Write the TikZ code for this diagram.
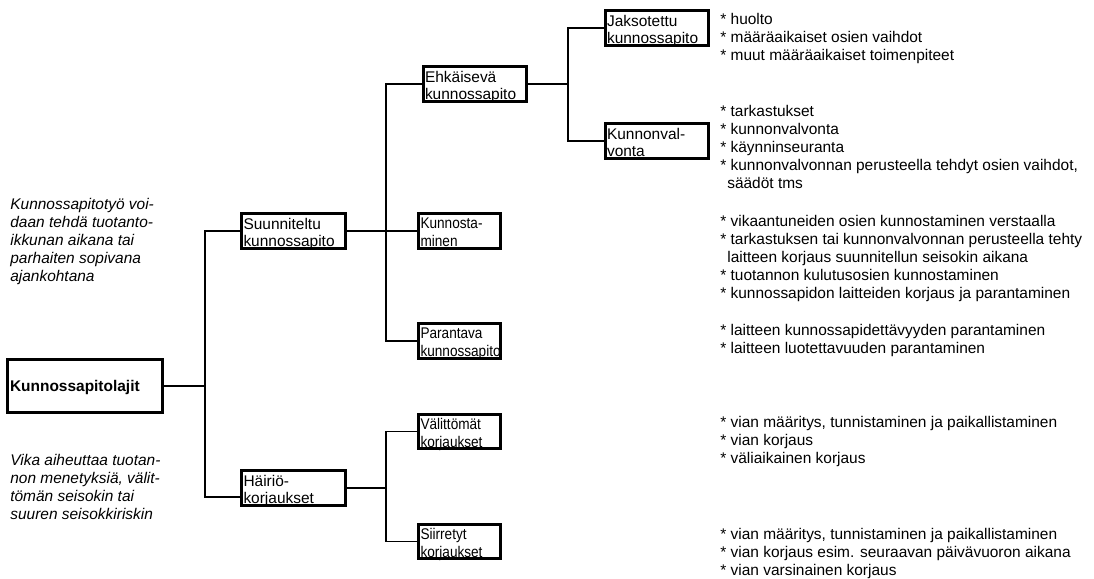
\documentclass[tikz,border=0pt]{standalone}
\usepackage{fontspec}
\setmainfont{Liberation Sans}
\newfontfamily\narrowfont[FakeStretch=0.88]{Liberation Sans}
\newcommand{\tekstikoko}{\fontsize{8.8}{10.2}\selectfont}
\tikzset{
	lajibox/.style={draw, line width=1.7pt, inner xsep=0pt, inner ysep=0pt, align=left, minimum height=0.69cm, text depth=8.6pt, font=\tekstikoko},
	leveabox/.style={lajibox, minimum width=2.07cm, text width=2.0cm},
	kapeabox/.style={lajibox, minimum width=1.63cm, text width=1.56cm, font=\narrowfont\tekstikoko},
	juuribox/.style={lajibox, minimum width=3.09cm, minimum height=1.05cm, text width=3.0cm, text depth=0pt, font=\bfseries\tekstikoko},
	lista/.style={anchor=north west, inner sep=0pt, align=left, font=\tekstikoko},
	selite/.style={lista, font=\itshape\tekstikoko},
	haara/.style={line width=0.7pt},
}
\newcommand{\sisenna}{\hspace*{0.45em}}
\begin{document}
\begin{tikzpicture}[x=0.02cm, y=-0.02cm]
		\useasboundingbox (0,0) rectangle (1094,578);
		% laatikot
		\node[juuribox] (lajit) at (85,386) {Kunnossapitolajit};
		\node[leveabox] (suunn) at (293.5,231) {Suunniteltu\\kunnossapito};
		\node[leveabox] (hairio) at (293.5,488) {Häiriö-\\korjaukset};
		\node[leveabox] (ehkais) at (475,84) {Ehkäisevä\\kunnossapito};
		\node[leveabox] (jakso) at (657,28) {Jaksotettu\\kunnossapito};
		\node[leveabox] (kvalv) at (657,141) {Kunnonval-\\vonta};
		\node[kapeabox] (kunnost) at (459.5,231) {Kunnosta-\\minen};
		\node[kapeabox] (parant) at (459.5,341) {Parantava\\kunnossapito};
		\node[kapeabox] (valit) at (459.5,431.5) {Välittömät\\korjaukset};
		\node[kapeabox] (siirr) at (459.5,541.5) {Siirretyt\\korjaukset};
		% haarat
		\coordinate (h1) at (205,386);
		\coordinate (h2) at (386,231);
		\coordinate (h3) at (568,84);
		\coordinate (h4) at (386,488);
		\draw[haara] (lajit.east) -- (h1);
		\draw[haara] (suunn.west) -| (h1) |- ([yshift=-0.18cm]hairio.west);
		\draw[haara] (suunn.east) -- (h2);
		\draw[haara] (ehkais.west) -| (h2) |- (parant.west);
		\draw[haara] (h2) -- (kunnost.west);
		\draw[haara] (ehkais.east) -- (h3);
		\draw[haara] (jakso.west) -| (h3) |- (kvalv.west);
		\draw[haara] (hairio.east) -- (h4);
		\draw[haara] (valit.west) -| (h4) |- (siirr.west);
		% selitteet
		\node[selite] (selite1) at (10,198) {Kunnossapitotyö voi-\\daan tehdä tuotanto-\\ikkunan aikana tai\\parhaiten sopivana\\ajankohtana};
		\node[selite] (selite2) at (10,454) {Vika aiheuttaa tuotan-\\non menetyksiä, välit-\\tömän seisokin tai\\suuren seisokkiriskin};
		% listat
		\node[lista] (l-jakso) at (720,13) {* huolto\\* määräaikaiset osien vaihdot\\* muut määräaikaiset toimenpiteet};
		\node[lista] (l-kvalv) at (720,105) {* tarkastukset\\* kunnonvalvonta\\* käynninseuranta\\* kunnonvalvonnan perusteella tehdyt osien vaihdot,\\\sisenna säädöt tms};
		\node[lista] (l-kunnost) at (720,215) {* vikaantuneiden osien kunnostaminen verstaalla\\* tarkastuksen tai kunnonvalvonnan perusteella tehty\\\sisenna laitteen korjaus suunnitellun seisokin aikana\\* tuotannon kulutusosien kunnostaminen\\* kunnossapidon laitteiden korjaus ja parantaminen};
		\node[lista] (l-parant) at (720,324) {* laitteen kunnossapidettävyyden parantaminen\\* laitteen luotettavuuden parantaminen};
		\node[lista] (l-valit) at (720,416) {* vian määritys, tunnistaminen ja paikallistaminen\\* vian korjaus\\* väliaikainen korjaus};
		\node[lista] (l-siirr) at (720,528) {* vian määritys, tunnistaminen ja paikallistaminen\\* vian korjaus esim. seuraavan päivävuoron aikana\\* vian varsinainen korjaus};
\end{tikzpicture}
\end{document}
